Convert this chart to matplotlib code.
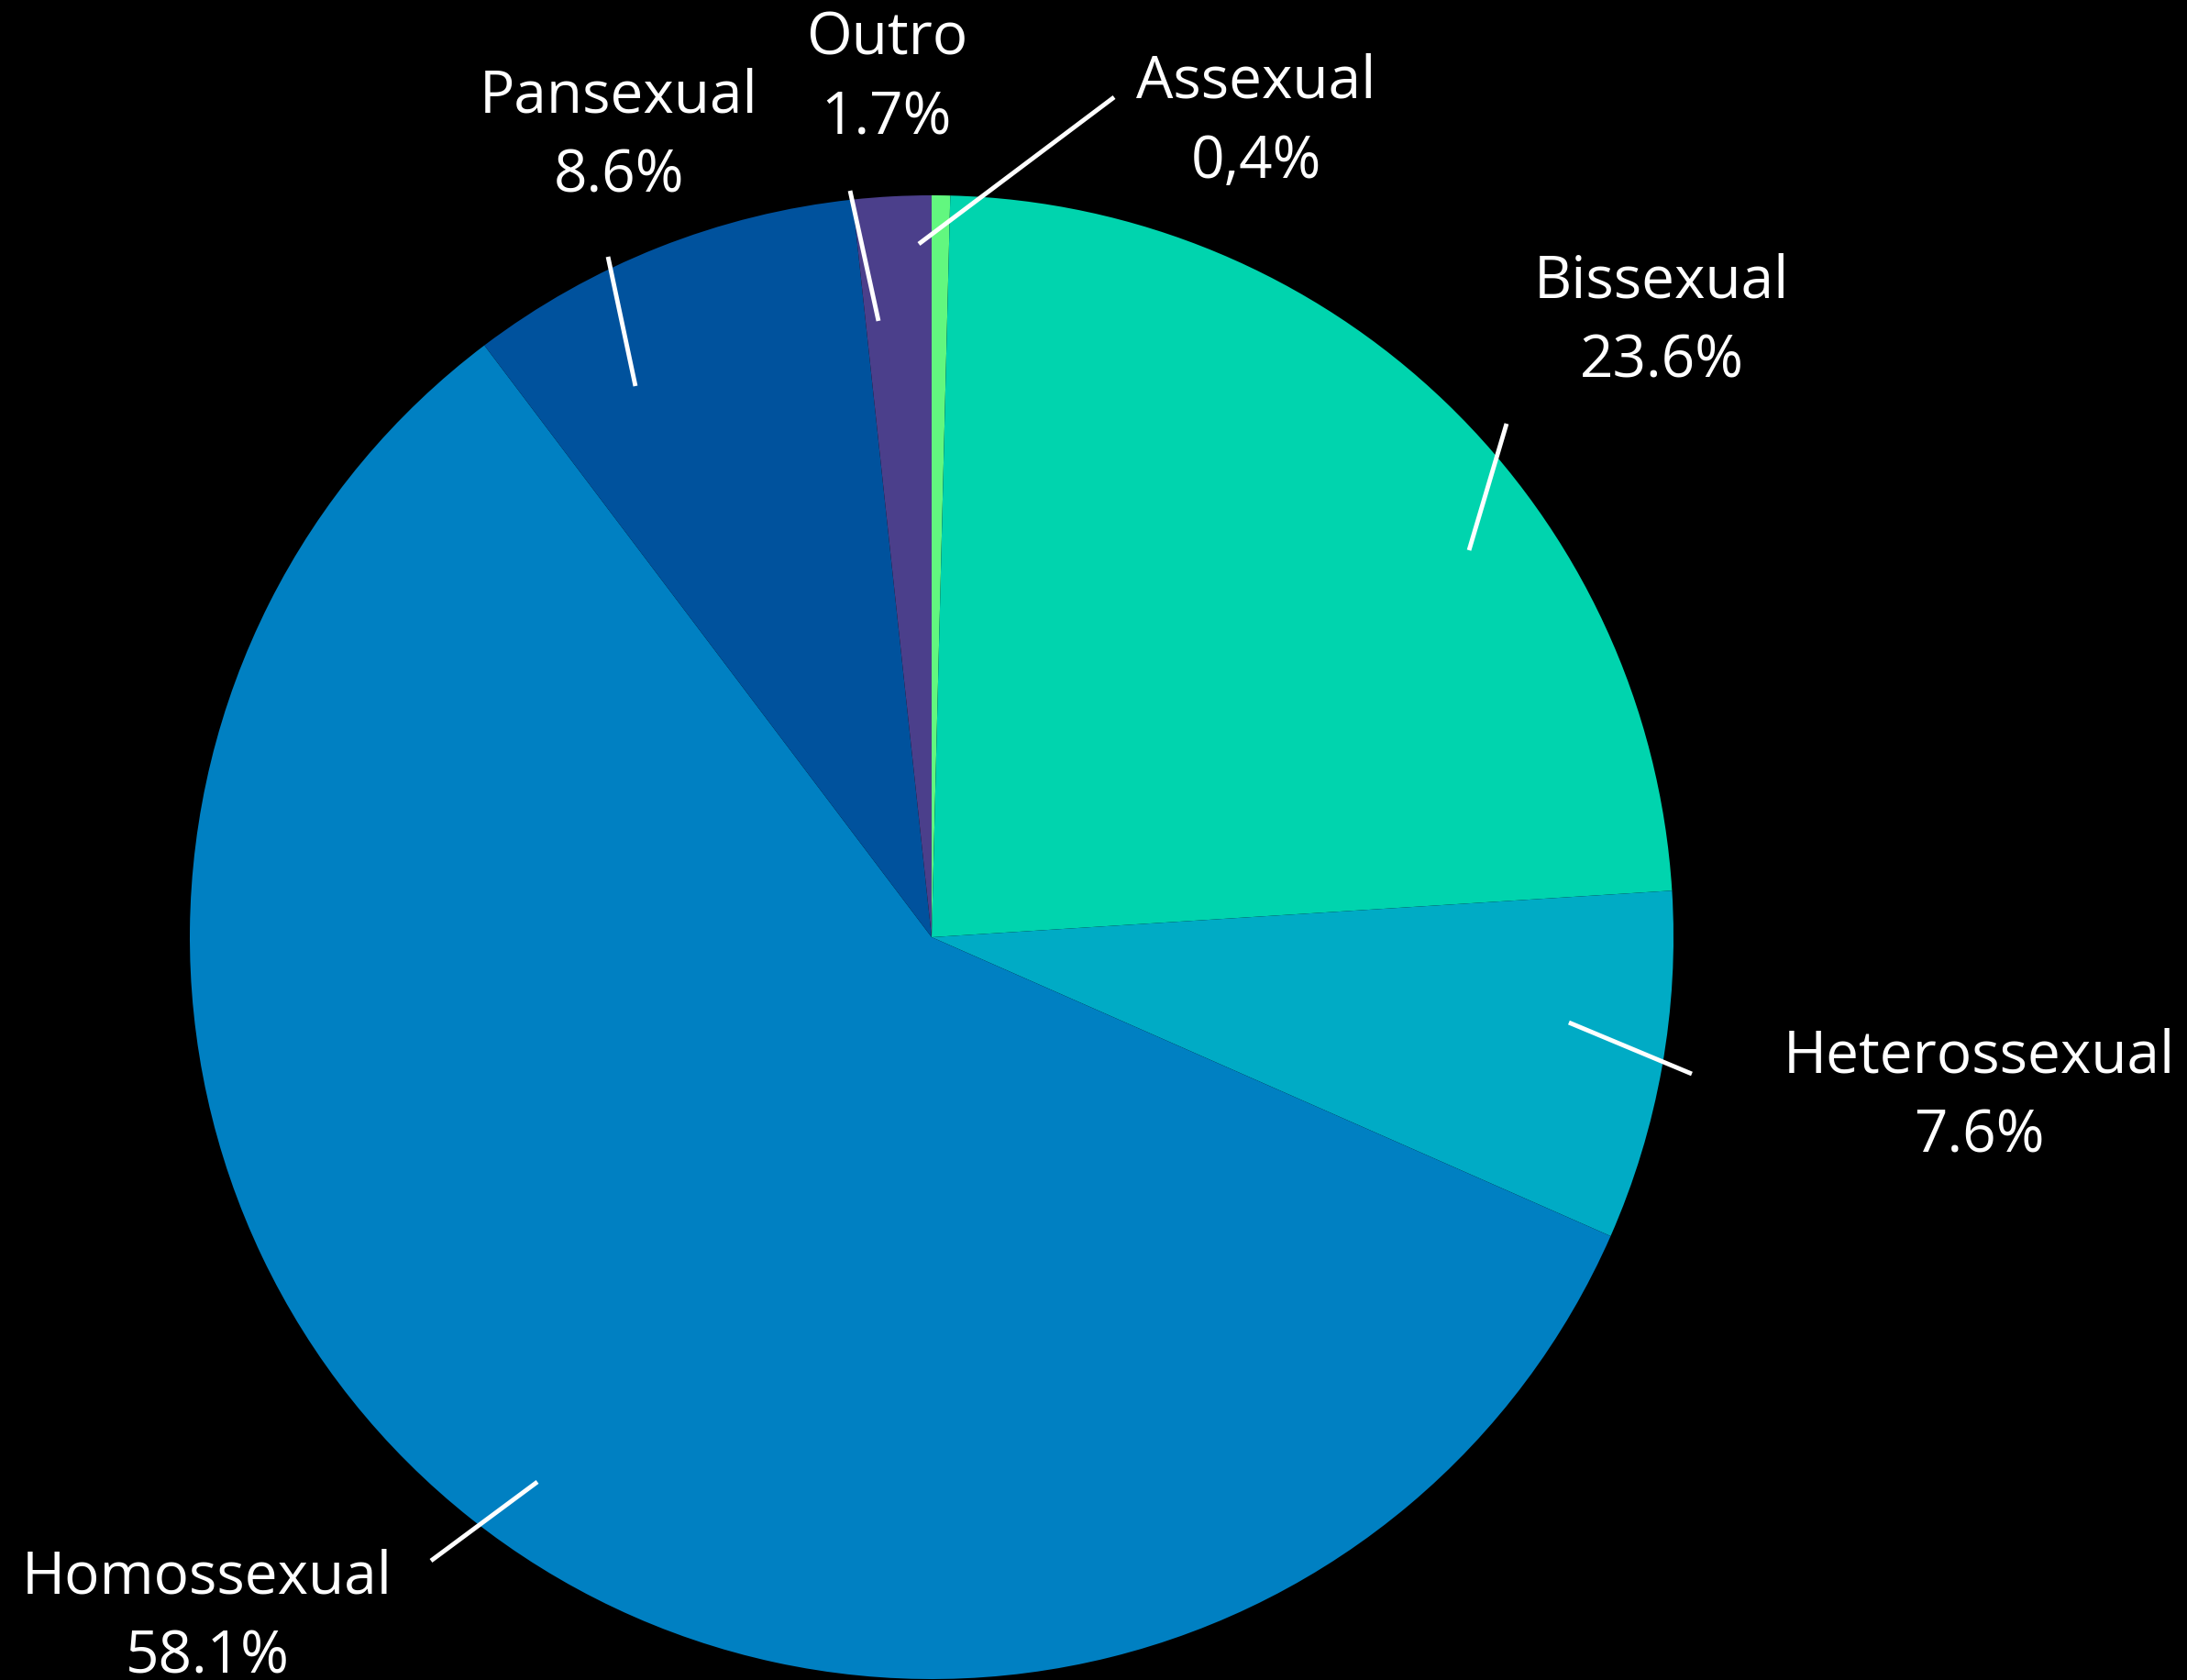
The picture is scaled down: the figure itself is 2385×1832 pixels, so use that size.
import matplotlib
matplotlib.use("Agg")
import matplotlib.pyplot as plt

# ---- data ----
categories = ["Assexual", "Bissexual", "Heterossexual", "Homossexual", "Pansexual", "Outro"]
values = [0.4, 23.6, 7.6, 58.1, 8.6, 1.7]
value_labels = ["0,4%", "23.6%", "7.6%", "58.1%", "8.6%", "1.7%"]

# ---- style ----
colors = ["#62F77F", "#00D4AE", "#00ABC5", "#0080C2", "#00529D", "#4B3F8B"]

# layout (in units of pie radius, pie centred at 0,0)
label_pos = {            # (x centre, baseline of the name)
    "Assexual": (0.4376, 1.1323),
    "Bissexual": (0.9839, 0.8628),
    "Heterossexual": (1.4116, -0.1817),
    "Homossexual": (-0.9765, -0.8838),
    "Pansexual": (-0.4215, 1.1125),
    "Outro": (-0.0606, 1.1904),
}
leader = {               # ((x0, y0), (x1, y1))
    "Assexual": ((-0.0173, 0.9345), (0.246, 1.1323)),
    "Bissexual": ((0.7244, 0.5216), (0.775, 0.6922)),
    "Heterossexual": ((0.859, -0.115), (1.0247, -0.1842)),
    "Homossexual": ((-0.5315, -0.7342), (-0.6749, -0.8405)),
    "Pansexual": ((-0.3993, 0.7429), (-0.4363, 0.9172)),
    "Outro": ((-0.0717, 0.8307), (-0.110, 1.0062)),
}
line_gap = 87 / 809

W, H, DPI = 2385, 1833, 100
CX, CY, R = 1016, 1023, 809

plt.rcParams["font.family"] = ["Open Sans", "DejaVu Sans"]
fig = plt.figure(figsize=(W / DPI, H / DPI), dpi=DPI, facecolor="black")
ax = fig.add_axes([0, 0, 1, 1])
ax.set_facecolor("black")

ax.pie(values, colors=colors, startangle=90, counterclock=False,
       radius=1, center=(0, 0), wedgeprops=dict(linewidth=0))

for name, pct in zip(categories, value_labels):
    x, y = label_pos[name]
    ax.text(x, y, name, ha="center", va="baseline", color="white", fontsize=46)
    ax.text(x, y - line_gap, pct, ha="center", va="baseline", color="white", fontsize=46)
    (x0, y0), (x1, y1) = leader[name]
    ax.plot([x0, x1], [y0, y1], color="white", lw=3.5, solid_capstyle="butt")

ax.set_xlim(-CX / R, (W - CX) / R)
ax.set_ylim(-(H - CY) / R, CY / R)
ax.set_aspect("auto")
ax.axis("off")

fig.savefig("out.png", dpi=DPI, facecolor="black")
